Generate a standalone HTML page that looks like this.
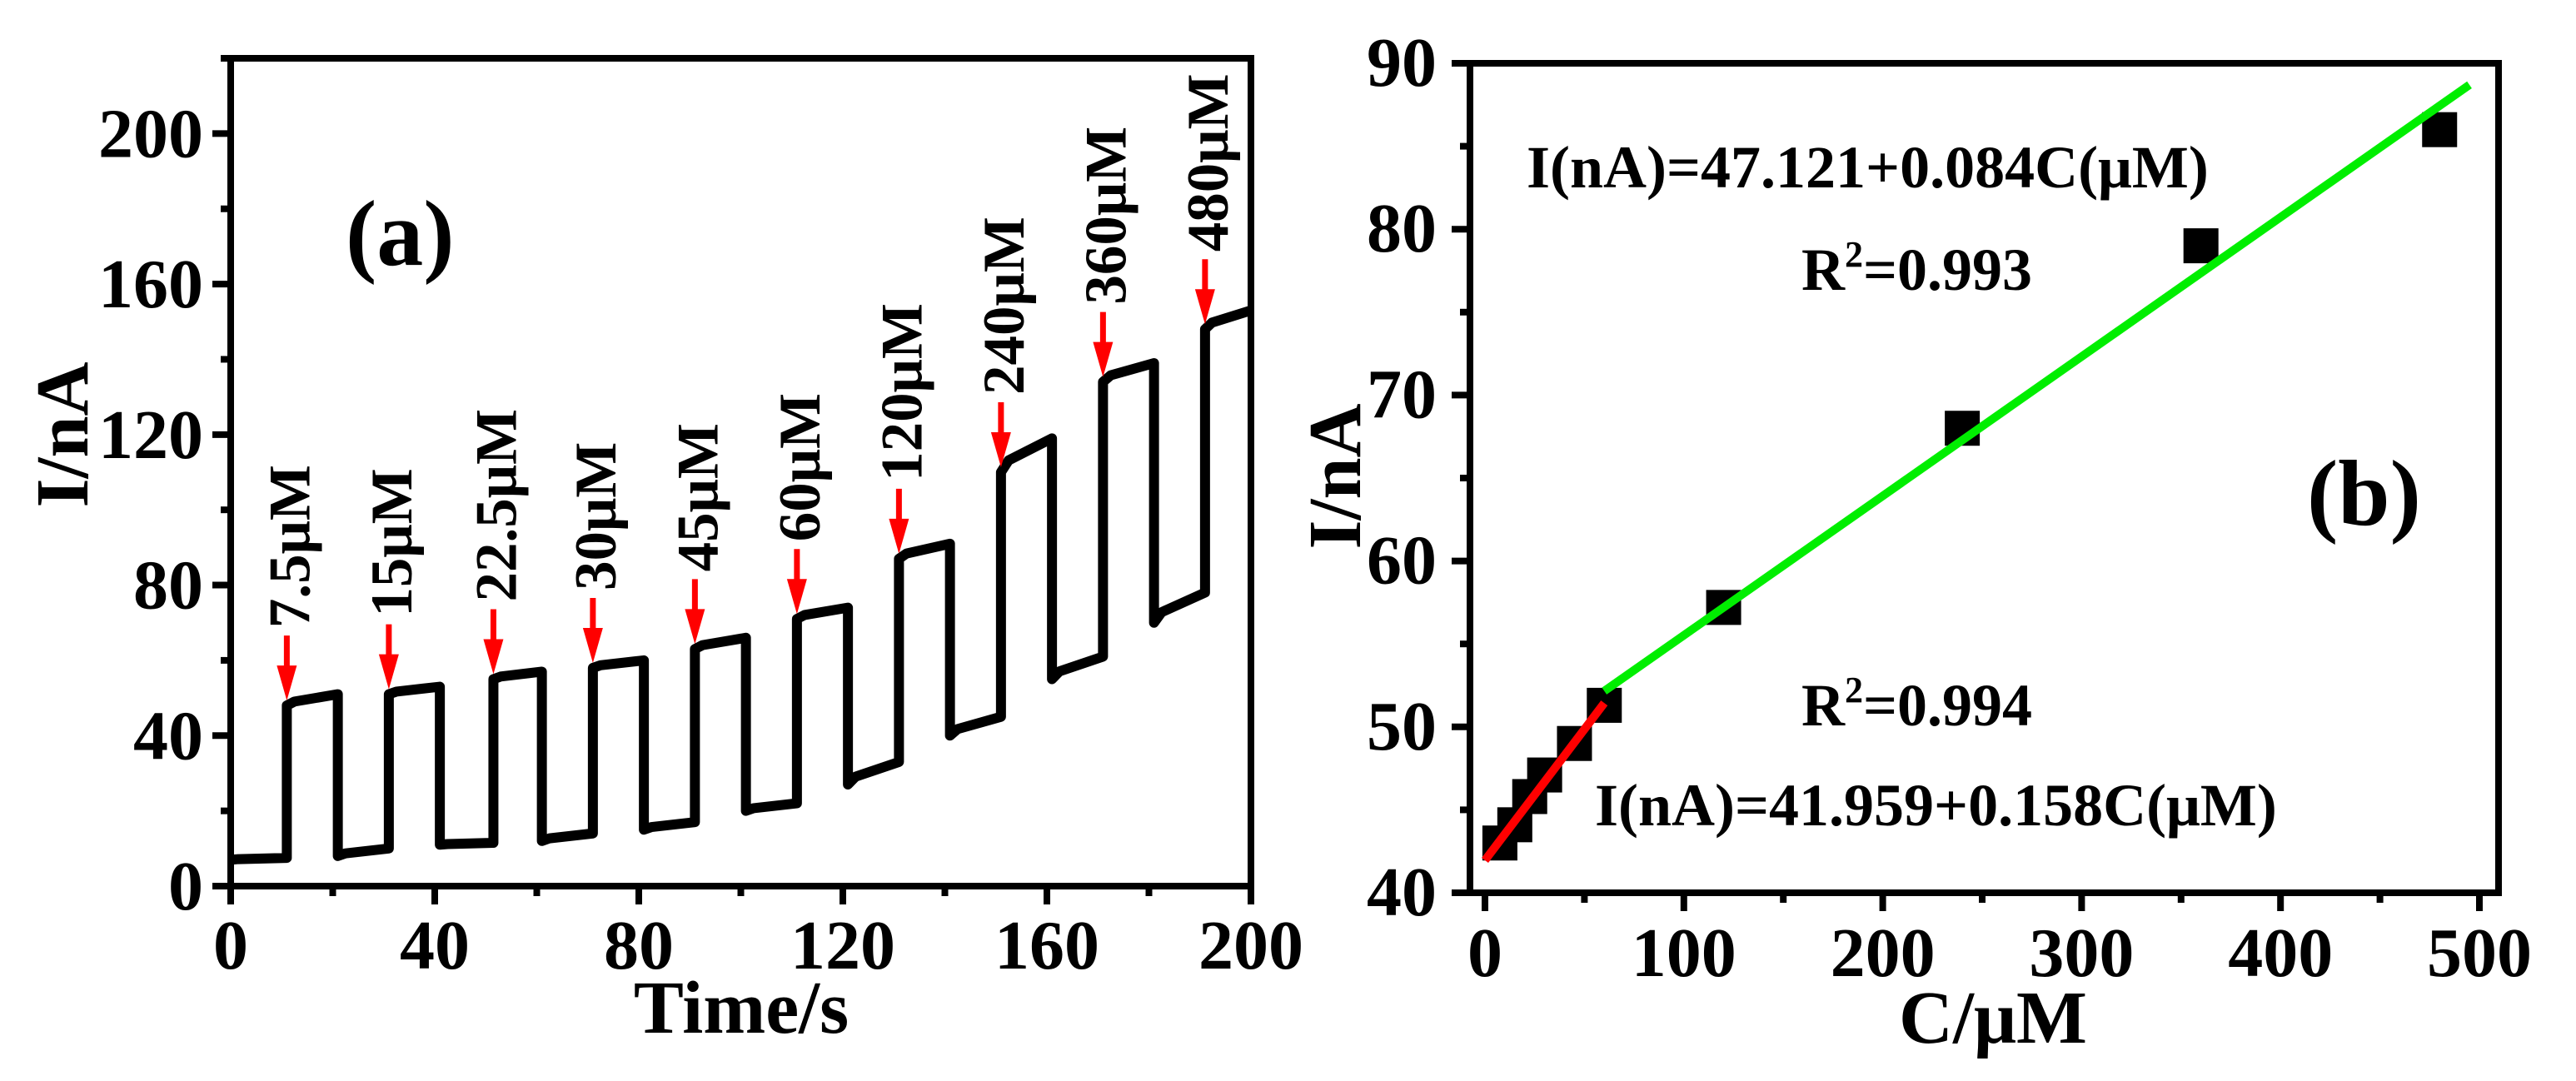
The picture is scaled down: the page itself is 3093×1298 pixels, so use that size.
<!DOCTYPE html>
<html><head><meta charset="utf-8"><style>
html,body{margin:0;padding:0;background:#fff;}
svg{display:block;}
text{font-family:"Liberation Serif",serif;font-weight:bold;fill:#000;}
</style></head><body>
<svg id="fig" width="3093" height="1298" viewBox="0 0 3093 1298" xmlns="http://www.w3.org/2000/svg">
<g id="pa"></g>
<g id="pb"></g>
</svg>
<script>
// ---------- Panel (a) data ----------
const segStart = [0, 11, 21, 31, 41, 51.5, 61, 71, 81, 91, 101, 111, 121, 131, 141, 151, 161, 171, 181, 191];
const segEnd   = [11, 21, 31, 41, 51.5, 61, 71, 81, 91, 101, 111, 121, 131, 141, 151, 161, 171, 181, 191, 200];
const segFrom  = [7, 48, 8, 51, 11, 55, 12, 58, 15, 63, 20, 71, 27, 87, 40, 110, 55, 134, 70, 148];
const segTo    = [7.5, 51, 10, 53, 11.5, 57, 14, 60, 17, 66, 22, 74, 33, 91, 45, 119, 61, 139, 78, 153];
const arrowT   = [11, 31, 51.5, 71, 91, 111, 131, 151, 171, 191];
const arrowLvl = [48, 51, 55, 58, 63, 71, 87, 110, 134, 148];
const arrowLbl = ["7.5μM","15μM","22.5μM","30μM","45μM","60μM","120μM","240μM","360μM","480μM"];
const aXTicks = [0, 40, 80, 120, 160, 200];
const aYTicks = [0, 40, 80, 120, 160, 200];
// ---------- Panel (b) data ----------
const concs = [7.5, 15, 22.5, 30, 45, 60, 120, 240, 360, 480];
const currents = [43.0, 44.1, 45.8, 47.1, 49.0, 51.3, 57.2, 68.0, 79.0, 86.0];
const fitLow = [41.959, 0.158, 0, 60];
const fitHigh = [47.121, 0.084, 60, 495];
const bXTicks = [0, 100, 200, 300, 400, 500];
const bYTicks = [40, 50, 60, 70, 80, 90];

const NS = "http://www.w3.org/2000/svg";
function mk(parent, tag, attrs, txt){
  const e = document.createElementNS(NS, tag);
  for (const k in attrs) e.setAttribute(k, attrs[k]);
  if (txt !== undefined) e.textContent = txt;
  parent.appendChild(e); return e;
}
const ax = t => 277 + (t - 0) * (1502 - 277) / 200;
const ay = v => 1064 - v * (1064 - 70) / 220;
const bx = c => 1783 + c * (2977 - 1783) / 500;
const by = v => 1072 - (v - 40) * (1072 - 76) / 50;

// ---- Panel a ----
const pa = document.getElementById('pa');
let d = "";
for (let i = 0; i < segStart.length; i++) {
  const t0 = segStart[i], t1 = segEnd[i];
  const knee = t0 + Math.min(1.5, (t1 - t0) * 0.15);
  const kv = segFrom[i] + (segTo[i] - segFrom[i]) * 0.35;
  d += (i === 0 ? "M" : "L") + ax(t0) + " " + ay(segFrom[i]);
  d += " L" + ax(knee) + " " + ay(kv);
  d += " L" + ax(t1) + " " + ay(segTo[i]) + " ";
}
const trace = mk(pa, 'path', {d: d, fill: 'none', stroke: '#000', 'stroke-width': 12, 'stroke-linejoin': 'round'});



for (let i = 0; i < arrowT.length; i++) {
  const x = ax(arrowT[i]);
  const tip = ay(arrowLvl[i]) - 6;
  const top = tip - 78;
  const g = mk(pa, 'g', {});
  
  
  mk(g, 'line', {x1: x, y1: top, x2: x, y2: tip - 38, stroke: '#ff0000', 'stroke-width': 7});
  mk(g, 'polygon', {points: (x - 12) + "," + (tip - 42) + " " + (x + 12) + "," + (tip - 42) + " " + x + "," + tip, fill: '#ff0000'});
  const lbl = mk(g, 'text', {x: 0, y: 0, 'font-size': 71, transform: 'translate(' + (x + 27) + ',' + (top - 9) + ') rotate(-90)'}, arrowLbl[i]);
  
  
}
const fa = mk(pa, 'rect', {x: 277, y: 70, width: 1225, height: 994, fill: 'none', stroke: '#000', 'stroke-width': 8});


for (let t = 0; t <= 200; t += 20) {
  const major = t % 40 === 0;
  mk(pa, 'line', {x1: ax(t), y1: 1064, x2: ax(t), y2: 1064 + (major ? 22 : 12), stroke: '#000', 'stroke-width': 8});
}
for (let v = 0; v <= 220; v += 20) {
  const major = v % 40 === 0;
  mk(pa, 'line', {x1: 277, y1: ay(v), x2: 277 - (major ? 22 : 12), y2: ay(v), stroke: '#000', 'stroke-width': 8});
}
aXTicks.forEach(t => {
  const e = mk(pa, 'text', {x: ax(t), y: 1163, 'font-size': 84, 'text-anchor': 'middle'}, String(t));
  
  
});
aYTicks.forEach(v => {
  const e = mk(pa, 'text', {x: 244, y: ay(v) + 28, 'font-size': 84, 'text-anchor': 'end'}, String(v));
  
  
});
let e1 = mk(pa, 'text', {x: 890, y: 1240, 'font-size': 90, 'text-anchor': 'middle'}, "Time/s");
 
e1 = mk(pa, 'text', {x: 0, y: 0, 'font-size': 90, 'text-anchor': 'middle', transform: 'translate(105,522) rotate(-90)'}, "I/nA");
 
e1 = mk(pa, 'text', {x: 415, y: 318, 'font-size': 112}, "(a)");
 

// ---- Panel b ----
const pb = document.getElementById('pb');
const fb = mk(pb, 'rect', {x: 1765, y: 76, width: 1235, height: 996, fill: 'none', stroke: '#000', 'stroke-width': 8});


for (let c = 0; c <= 500; c += 50) {
  const major = c % 100 === 0;
  mk(pb, 'line', {x1: bx(c), y1: 1072, x2: bx(c), y2: 1072 + (major ? 22 : 12), stroke: '#000', 'stroke-width': 8});
}
for (let v = 40; v <= 90; v += 5) {
  const major = v % 10 === 0;
  mk(pb, 'line', {x1: 1765, y1: by(v), x2: 1765 - (major ? 22 : 12), y2: by(v), stroke: '#000', 'stroke-width': 8});
}
bXTicks.forEach(c => {
  const e = mk(pb, 'text', {x: bx(c), y: 1172, 'font-size': 84, 'text-anchor': 'middle'}, String(c));
  
  
});
bYTicks.forEach(v => {
  const e = mk(pb, 'text', {x: 1725, y: by(v) + 27, 'font-size': 84, 'text-anchor': 'end'}, String(v));
  
  
});
concs.forEach((c, i) => {
  const r = mk(pb, 'rect', {x: bx(c) - 21, y: by(currents[i]) - 21, width: 42, height: 42, fill: '#000'});
  
  
});
let l = mk(pb, 'line', {x1: bx(fitLow[2]), y1: by(fitLow[0] + fitLow[1] * fitLow[2]), x2: bx(fitLow[3]), y2: by(fitLow[0] + fitLow[1] * fitLow[3]), stroke: '#ff0000', 'stroke-width': 10});


l = mk(pb, 'line', {x1: bx(fitHigh[2]), y1: by(fitHigh[0] + fitHigh[1] * fitHigh[2]), x2: bx(fitHigh[3]), y2: by(fitHigh[0] + fitHigh[1] * fitHigh[3]), stroke: '#00ee00', 'stroke-width': 10});



e1 = mk(pb, 'text', {x: 1833, y: 225, 'font-size': 72}, "I(nA)=47.121+0.084C(μM)");
 
e1 = mk(pb, 'text', {x: 2163, y: 348, 'font-size': 72}, "R");
 
mk(e1, 'tspan', {'font-size': 44, dy: -28}, "2");
mk(e1, 'tspan', {'font-size': 72, dy: 28}, "=0.993");
e1 = mk(pb, 'text', {x: 2163, y: 871, 'font-size': 72}, "R");
 
mk(e1, 'tspan', {'font-size': 44, dy: -28}, "2");
mk(e1, 'tspan', {'font-size': 72, dy: 28}, "=0.994");
e1 = mk(pb, 'text', {x: 1915, y: 991, 'font-size': 72}, "I(nA)=41.959+0.158C(μM)");
 
e1 = mk(pb, 'text', {x: 2770, y: 630, 'font-size': 112}, "(b)");
 
e1 = mk(pb, 'text', {x: 2393, y: 1252, 'font-size': 90, 'text-anchor': 'middle'}, "C/μM");
 
e1 = mk(pb, 'text', {x: 0, y: 0, 'font-size': 90, 'text-anchor': 'middle', transform: 'translate(1633,572) rotate(-90)'}, "I/nA");
 
</script>
</body></html>
